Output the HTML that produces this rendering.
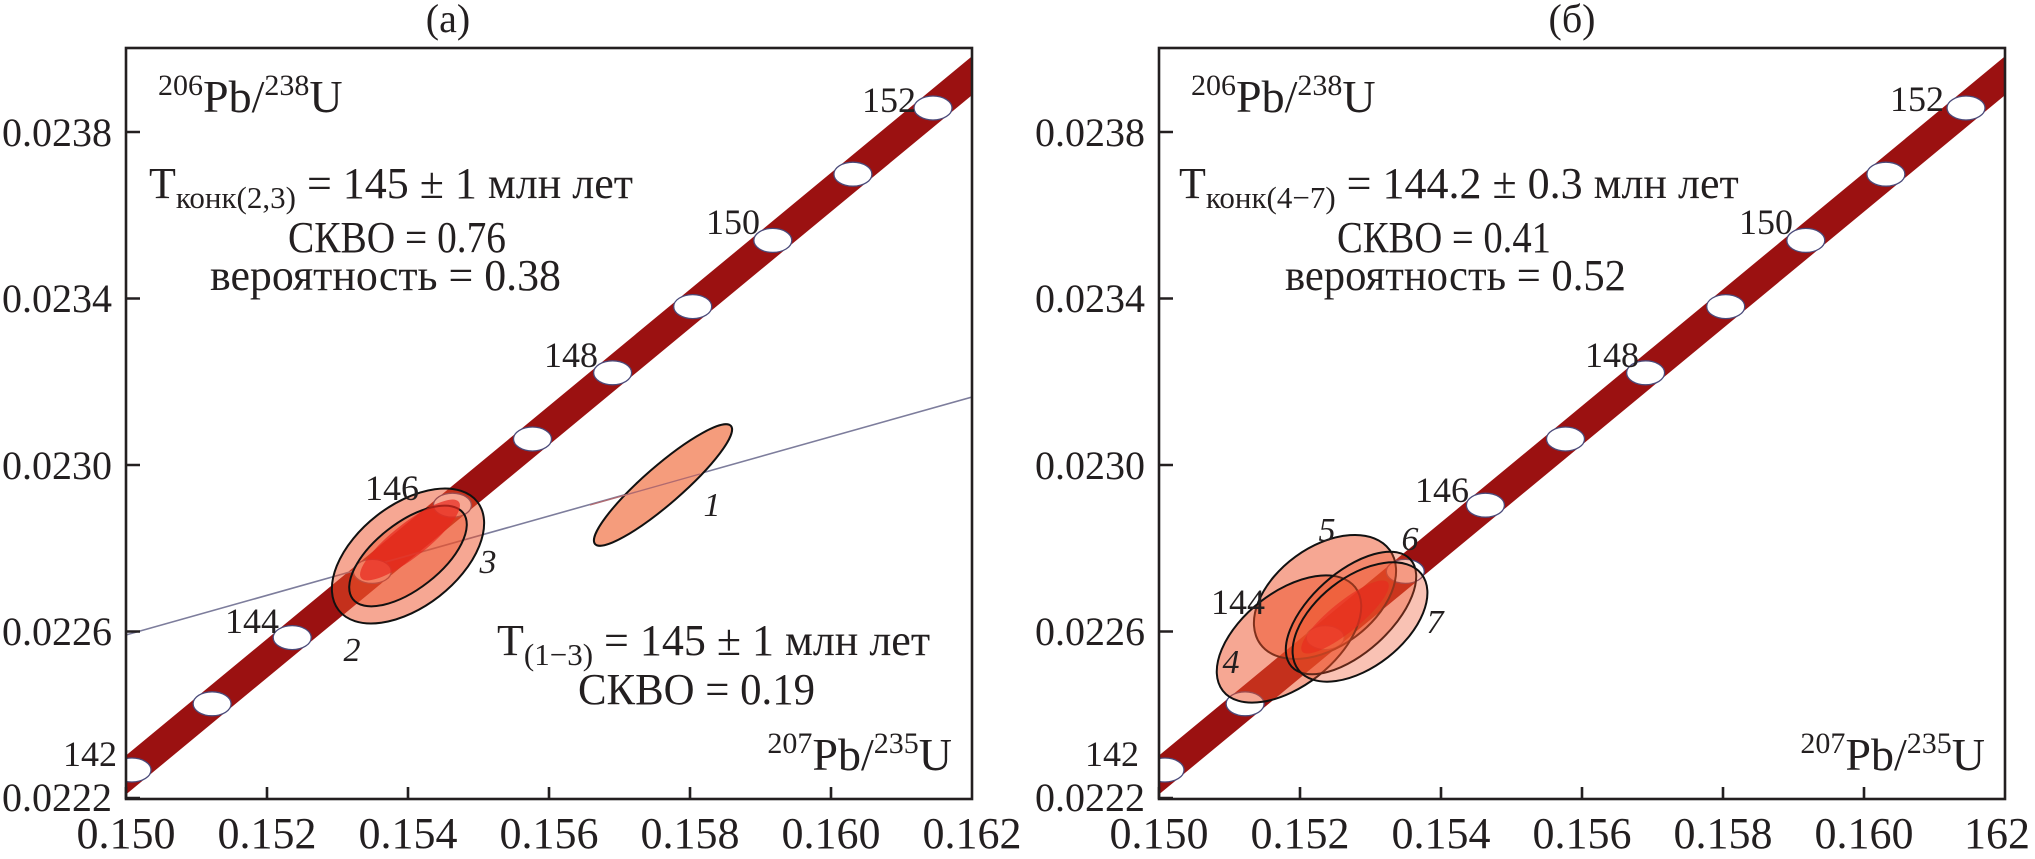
<!DOCTYPE html>
<html><head><meta charset="utf-8"><style>html,body{margin:0;padding:0;background:#fff;}svg{display:block}</style></head>
<body>
<svg width="2035" height="859" viewBox="0 0 2035 859" xmlns="http://www.w3.org/2000/svg" font-family="'Liberation Serif', 'DejaVu Serif', serif" fill="#231f20">
<defs>
<clipPath id="cl"><rect x="126" y="48" width="846" height="751"/></clipPath>
<clipPath id="cr"><rect x="1159" y="48" width="846" height="751"/></clipPath>
</defs>

<!-- ===== LEFT PANEL ===== -->
<text x="448" y="32" font-size="40" text-anchor="middle">(a)</text>
<g clip-path="url(#cl)">
  <line x1="76" y1="816.3" x2="1022" y2="34.4" stroke="#9b1111" stroke-width="30"/>
  <line x1="126" y1="635" x2="972" y2="397" stroke="#7d7d9c" stroke-width="1.6"/>
  <g fill="#fff" stroke="#4a4a7a" stroke-width="1.3">
    <ellipse cx="132" cy="770" rx="19" ry="12"/>
    <ellipse cx="212.1" cy="703.8" rx="19" ry="12"/>
    <ellipse cx="292.2" cy="637.6" rx="19" ry="12"/>
    <ellipse cx="372.3" cy="571.4" rx="19" ry="12"/>
    <ellipse cx="452.4" cy="505.2" rx="19" ry="12"/>
    <ellipse cx="532.5" cy="439" rx="19" ry="12"/>
    <ellipse cx="612.6" cy="372.8" rx="19" ry="12"/>
    <ellipse cx="692.7" cy="306.6" rx="19" ry="12"/>
    <ellipse cx="772.8" cy="240.4" rx="19" ry="12"/>
    <ellipse cx="852.9" cy="174.2" rx="19" ry="12"/>
    <ellipse cx="933" cy="108" rx="19" ry="12"/>
  </g>
  <ellipse cx="663" cy="485" rx="90" ry="19" transform="rotate(-41 663 485)" fill="#f59c7c" stroke="#111" stroke-width="2"/>
  <line x1="590" y1="505" x2="700" y2="474" stroke="#b06a70" stroke-width="1.4"/>
  <ellipse cx="408" cy="556" rx="88" ry="51" transform="rotate(-38 408 556)" fill="rgba(238,80,40,0.5)" stroke="#111" stroke-width="2"/>
  <ellipse cx="408" cy="556" rx="70" ry="33" transform="rotate(-38 408 556)" fill="rgba(238,80,40,0.45)" stroke="#111" stroke-width="2"/>
  <ellipse cx="410" cy="540" rx="62" ry="17" transform="rotate(-38 410 540)" fill="rgba(232,40,30,0.7)"/>
</g>
<g font-size="36">
  <text x="90" y="766" text-anchor="middle">142</text>
  <text x="252" y="633" text-anchor="middle">144</text>
  <text x="392" y="500" text-anchor="middle">146</text>
  <text x="571" y="367" text-anchor="middle">148</text>
  <text x="733" y="234" text-anchor="middle">150</text>
  <text x="889" y="112" text-anchor="middle">152</text>
</g>
<g font-size="34" font-style="italic">
  <text x="712" y="516" text-anchor="middle">1</text>
  <text x="352" y="661" text-anchor="middle">2</text>
  <text x="488" y="573" text-anchor="middle">3</text>
</g>
<text x="158" y="112" font-size="46"><tspan font-size="30" dy="-17">206</tspan><tspan dy="17">Pb/</tspan><tspan font-size="30" dy="-17">238</tspan><tspan dy="17">U</tspan></text>
<text x="149" y="198" font-size="44">T<tspan font-size="31" dy="10">конк(2,3)</tspan><tspan dy="-10"> = 145 ± 1 млн лет</tspan></text>
<text x="288" y="252" font-size="44" textLength="218" lengthAdjust="spacingAndGlyphs">СКВО = 0.76</text>
<text x="210" y="290" font-size="44" textLength="351" lengthAdjust="spacingAndGlyphs">вероятность = 0.38</text>
<text x="497" y="655" font-size="44">T<tspan font-size="31" dy="10">(1−3)</tspan><tspan dy="-10"> = 145 ± 1 млн лет</tspan></text>
<text x="578" y="704" font-size="44" textLength="237" lengthAdjust="spacingAndGlyphs">СКВО = 0.19</text>
<text x="952" y="770" font-size="46" text-anchor="end"><tspan font-size="30" dy="-17">207</tspan><tspan dy="17">Pb/</tspan><tspan font-size="30" dy="-17">235</tspan><tspan dy="17">U</tspan></text>
<g stroke="#231f20" stroke-width="2.6" fill="none">
  <rect x="126" y="48" width="846" height="751"/>
  <path d="M126 132h14M126 298.5h14M126 465h14M126 631.5h14M126 798h14M126 799v-12M267 799v-12M408 799v-12M549 799v-12M690 799v-12M831 799v-12"/>
</g>
<g font-size="40" text-anchor="end">
  <text x="112" y="146">0.0238</text>
  <text x="112" y="312">0.0234</text>
  <text x="112" y="479">0.0230</text>
  <text x="112" y="645">0.0226</text>
  <text x="112" y="811">0.0222</text>
</g>
<g font-size="44" text-anchor="middle">
  <text x="126" y="848">0.150</text>
  <text x="267" y="848">0.152</text>
  <text x="408" y="848">0.154</text>
  <text x="549" y="848">0.156</text>
  <text x="690" y="848">0.158</text>
  <text x="831" y="848">0.160</text>
  <text x="972" y="848">0.162</text>
</g>

<!-- ===== RIGHT PANEL ===== -->
<text x="1572" y="32" font-size="40" text-anchor="middle">(б)</text>
<g clip-path="url(#cr)">
  <line x1="1109" y1="816.3" x2="2055" y2="34.4" stroke="#9b1111" stroke-width="30"/>
  <g fill="#fff" stroke="#4a4a7a" stroke-width="1.3">
    <ellipse cx="1165" cy="770" rx="19" ry="12"/>
    <ellipse cx="1245.1" cy="703.8" rx="19" ry="12"/>
    <ellipse cx="1325.2" cy="637.6" rx="19" ry="12"/>
    <ellipse cx="1405.3" cy="571.4" rx="19" ry="12"/>
    <ellipse cx="1485.4" cy="505.2" rx="19" ry="12"/>
    <ellipse cx="1565.5" cy="439" rx="19" ry="12"/>
    <ellipse cx="1645.6" cy="372.8" rx="19" ry="12"/>
    <ellipse cx="1725.7" cy="306.6" rx="19" ry="12"/>
    <ellipse cx="1805.8" cy="240.4" rx="19" ry="12"/>
    <ellipse cx="1885.9" cy="174.2" rx="19" ry="12"/>
    <ellipse cx="1966" cy="108" rx="19" ry="12"/>
  </g>
  <g stroke="#111" stroke-width="2">
    <ellipse cx="1325" cy="597" rx="80" ry="50" transform="rotate(-36 1325 597)" fill="rgba(238,80,40,0.5)"/>
    <ellipse cx="1289" cy="639" rx="84" ry="47" transform="rotate(-38 1289 639)" fill="rgba(238,80,40,0.5)"/>
    <ellipse cx="1351" cy="613" rx="80" ry="40" transform="rotate(-42 1351 613)" fill="rgba(238,80,40,0.35)"/>
    <ellipse cx="1360" cy="622" rx="78" ry="45" transform="rotate(-38 1360 622)" fill="rgba(238,80,40,0.35)"/>
  </g>
  <ellipse cx="1345" cy="617" rx="55" ry="15" transform="rotate(-39 1345 617)" fill="rgba(232,40,30,0.6)"/>
</g>
<g font-size="36">
  <text x="1112" y="766" text-anchor="middle">142</text>
  <text x="1238" y="614" text-anchor="middle">144</text>
  <text x="1442" y="502" text-anchor="middle">146</text>
  <text x="1612" y="367" text-anchor="middle">148</text>
  <text x="1766" y="234" text-anchor="middle">150</text>
  <text x="1917" y="111" text-anchor="middle">152</text>
</g>
<g font-size="34" font-style="italic">
  <text x="1231" y="673" text-anchor="middle">4</text>
  <text x="1327" y="541" text-anchor="middle">5</text>
  <text x="1410" y="550" text-anchor="middle">6</text>
  <text x="1435" y="633" text-anchor="middle">7</text>
</g>
<text x="1191" y="112" font-size="46"><tspan font-size="30" dy="-17">206</tspan><tspan dy="17">Pb/</tspan><tspan font-size="30" dy="-17">238</tspan><tspan dy="17">U</tspan></text>
<text x="1179" y="198" font-size="44">T<tspan font-size="31" dy="10">конк(4−7)</tspan><tspan dy="-10"> = 144.2 ± 0.3 млн лет</tspan></text>
<text x="1337" y="252" font-size="44" textLength="214" lengthAdjust="spacingAndGlyphs">СКВО = 0.41</text>
<text x="1285" y="290" font-size="44" textLength="341" lengthAdjust="spacingAndGlyphs">вероятность = 0.52</text>
<text x="1985" y="770" font-size="46" text-anchor="end"><tspan font-size="30" dy="-17">207</tspan><tspan dy="17">Pb/</tspan><tspan font-size="30" dy="-17">235</tspan><tspan dy="17">U</tspan></text>
<g stroke="#231f20" stroke-width="2.6" fill="none">
  <rect x="1159" y="48" width="846" height="751"/>
  <path d="M1159 132h14M1159 298.5h14M1159 465h14M1159 631.5h14M1159 798h14M1159 799v-12M1300 799v-12M1441 799v-12M1582 799v-12M1723 799v-12M1864 799v-12"/>
</g>
<g font-size="40" text-anchor="end">
  <text x="1145" y="146">0.0238</text>
  <text x="1145" y="312">0.0234</text>
  <text x="1145" y="479">0.0230</text>
  <text x="1145" y="645">0.0226</text>
  <text x="1145" y="811">0.0222</text>
</g>
<g font-size="44" text-anchor="middle">
  <text x="1159" y="848">0.150</text>
  <text x="1300" y="848">0.152</text>
  <text x="1441" y="848">0.154</text>
  <text x="1582" y="848">0.156</text>
  <text x="1723" y="848">0.158</text>
  <text x="1864" y="848">0.160</text>
  <text x="2030" y="848" text-anchor="end">162</text>
</g>
</svg>
</body></html>
